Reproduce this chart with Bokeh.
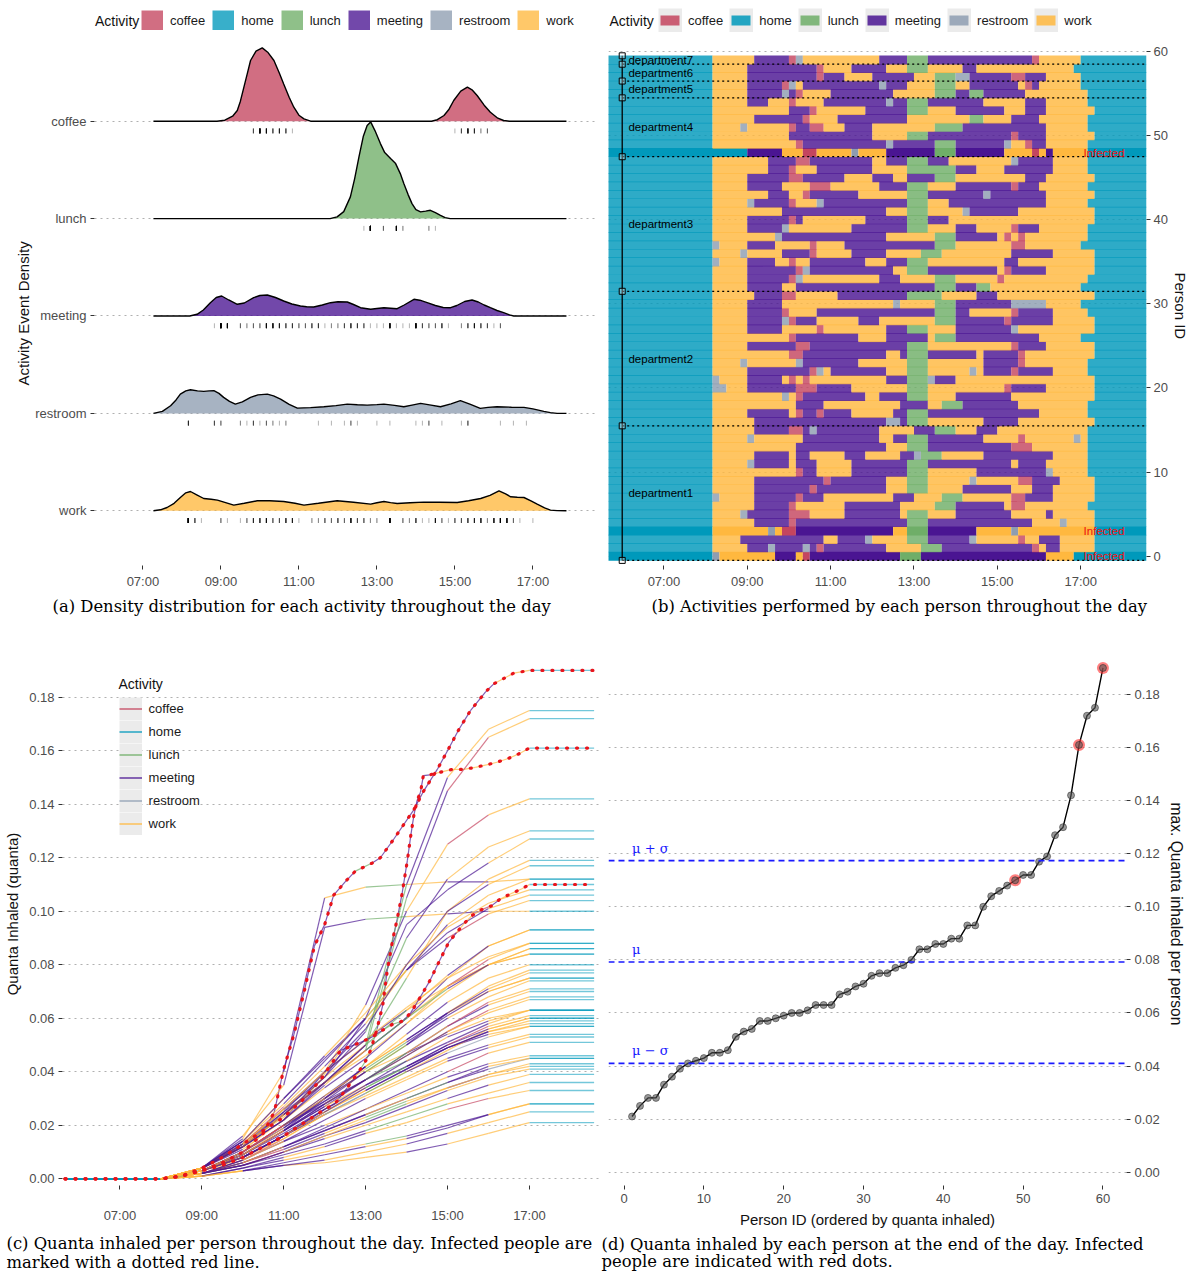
import numpy as np
from bokeh.plotting import figure
from bokeh.layouts import row, column
from bokeh.models import (ColumnDataSource, FixedTicker, Legend, LegendItem, Label,
                          Span, Title, Range1d, PrintfTickFormatter)
from bokeh.core.properties import value
from bokeh.embed import file_html
from bokeh.resources import INLINE

# ---------------------------------------------------------------- data
ACTIVITIES = ["coffee", "home", "lunch", "meeting", "restroom", "work"]
ACTIVITY_COLORS = ["#c4455f", "#0099bb", "#6fae68", "#4a1592", "#8e9db1", "#ffb83f"]
CODE = {"c": "coffee", "h": "home", "l": "lunch", "m": "meeting", "r": "restroom", "w": "work"}

SCHEDULE_START = 8.0          # first slot 08:00
SLOT_HOURS = 10 / 60          # 10 minute slots
DAY_START = 5.66              # home from ~05:40
DAY_END = 18.58               # home until ~18:35

# schedule of each person (id 0..59): activity code + number of 10-min slots
SCHEDULES = [
    "h1 r1 w8 m3 w1 c1 m13 l3 m18 w4",
    "h1 w5 m3 r1 m4 r1 m1 c1 m9 w5 l3 m13 c1 w1 m2 w5",
    "h1 w4 m12 w2 m4 r1 w5 l3 m6 r1 w6 c1 w2 m3 w5",
    "h1 w8 r1 w1 c2 m14 w2 l3 m7 w5 r1 w11",
    "h1 w6 m5 c1 m16 l3 m15 w4 r1 w4",
    "h1 w4 r1 m6 c3 w5 m8 w1 l3 w4 m8 w5 m1 w6",
    "h1 w6 m5 c1 w7 m8 w5 l3 m7 w1 c2 w9",
    "h1 r1 w5 m6 c1 m3 w10 m3 w4 l3 w7 c2 m4 w6",
    "h1 w6 m8 c1 m10 w3 l3 w5 m7 w3 m3 w6",
    "h1 w6 m10 c1 m8 w3 l3 w6 r1 w6 c2 m4 w5",
    "h1 w12 c1 m2 w5 m8 l3 w7 m10 r1 w5",
    "h1 w5 r1 m5 w1 m3 w5 m8 l3 m12 w1 m4 w6",
    "h1 w6 m5 w1 m2 w5 m3 w5 m2 r1 l3 w6 m10 w5",
    "h1 w12 m13 w3 l3 m12 c3 w8",
    "h1 w5 r1 w7 m11 w2 m2 l3 m8 w5 c1 w7 r1 w1",
    "h1 w6 m5 c2 m1 r1 m9 w5 m3 l3 w3 m3 w13",
    "h1 w6 m19 r2 m1 l3 w8 m5 w11",
    "h1 w5 m6 w1 c1 m2 c1 m4 w6 m2 l3 m16 w7",
    "h1 w12 m4 w11 m4 w2 l3 m8 w10",
    "h1 w10 r1 w1 c1 m9 w2 m4 l3 w4 m8 w12",
    "h1 r2 w3 m7 c3 m5 w8 l3 w11 c1 m5 w7",
    "h1 r1 w4 m5 w1 c1 w1 c1 w11 m3 l3 r1 m3 w20",
    "h1 w5 m9 c1 r1 w1 m8 w3 l3 w6 r1 w1 m4 c1 m5 w5",
    "h1 w4 r1 w7 r1 m8 w7 l3 w8 m5 c1 w9",
    "h1 w11 c2 m12 w2 m1 l3 m7 w1 m5 c1 w10",
    "h1 w5 m7 c2 m14 l3 w12 c1 m4 w7",
    "h1 w11 c1 m9 w4 m6 w1 l3 m12 w6",
    "h1 w5 m5 w5 c1 w9 m3 l3 w4 m8 r1 w11",
    "h1 w5 m5 r1 c1 m3 w6 m3 w8 l3 m7 c1 m6 w6",
    "h1 w5 m5 c1 w4 m17 l3 m2 w6 c1 m5 w5",
    "h1 w5 m5 w16 r1 w5 l3 m8 r5 w5",
    "h1 w6 m4 c2 w6 m10 l5 w5 m3 w14",
    "h1 w5 m5 w2 m20 l3 m3 l2 w13",
    "h1 w5 m6 c1 r1 w11 m3 w5 l3 w6 c1 w12",
    "h1 w5 m7 c1 r1 m12 w2 l3 m10 w1 c1 m5 w7",
    "h1 r1 w4 m4 w2 c1 w2 m8 w3 m3 l3 w11 m2 w11",
    "h1 w4 r1 w5 m4 c1 w5 m5 w5 l3 w10 m6 w6",
    "h1 r1 w4 m4 w5 c1 w4 m13 l3 w8 c2 w8",
    "h1 w9 r1 m15 w7 l3 m6 w1 c1 w1 c1 w9",
    "h1 w5 m5 r1 w9 m8 l3 w4 m3 w5 c1 m3 w7",
    "h1 w5 m6 c1 m1 w9 m6 l3 m3 w21",
    "h1 w10 m15 w3 l3 w5 r1 m7 w11",
    "h1 w5 r1 m5 c1 w3 r1 m12 l3 w3 m14 w6",
    "h1 w8 m3 w2 c1 m7 w7 l3 m8 r1 m8 w7",
    "h1 w5 m5 w4 c3 w7 m4 l3 w4 m8 c1 m3 w7",
    "h1 w5 m6 c2 m6 w4 m3 w2 m4 l3 w10 m3 w7",
    "h1 w8 m3 c1 w3 m8 w5 l7 m3 w4 m7 w5",
    "h1 w8 m4 c2 m9 w2 m3 l3 m3 w9 r1 m5 w5",
    "h6 m5 w3 c2 w5 r1 w4 m7 l3 m7 w4 c1 w1 m1 w5",
    "h1 w12 c1 m12 r1 m6 l3 m7 r1 w2 c1 m2 w6",
    "h1 w11 m12 w5 l3 m12 c1 m4 w7",
    "h1 w4 r1 w6 c1 m2 c2 w3 m4 w9 l4 m12 w6",
    "h1 w6 m7 c1 w4 m10 w9 l2 w4 m4 w7",
    "h1 w11 m3 c1 w7 m6 l3 w4 m7 w3 m3 w7",
    "h1 w5 m3 w3 c1 w4 m9 r1 m2 l3 m8 w6 m3 w6",
    "h1 w5 m5 r1 m1 c1 w4 m9 w6 l3 m2 l2 m6 w9",
    "h1 w5 m5 c1 r1 w1 m11 r1 m3 w4 l3 w2 m7 w1 c1 m1 w6",
    "h1 w5 m10 c1 m3 w4 m6 w3 l3 r2 m6 c2 m3 w5",
    "h1 w5 m10 c1 w4 m5 w3 l3 w5 m2 w14",
    "h1 w6 m5 c1 r1 w11 m4 l3 m15 c1 w6",
]
INFECTED = [0, 3, 48]
DEPARTMENTS = ["department1", "department2", "department3", "department4",
               "department5", "department6", "department7"]
DEPARTMENT_SIZES = [16, 16, 16, 7, 2, 2, 1]

# ridgeline densities (times in hours, density in px-like units)
DENSITY_ROWS = ["work", "restroom", "meeting", "lunch", "coffee"]   # bottom -> top
DENS_T = {
    "coffee": [7.27, 8.9, 9.1, 9.3, 9.42, 9.5, 9.59, 9.68, 9.76, 9.9, 10.06, 10.2, 10.36, 10.5, 10.61,
               10.75, 10.87, 11.0, 11.13, 11.3, 14.4, 14.55, 14.72, 14.85, 14.97, 15.15, 15.32, 15.45,
               15.57, 15.75, 15.91, 16.1, 16.25, 16.4, 17.86],
    "lunch": [7.27, 11.8, 11.98, 12.15, 12.32, 12.43, 12.54, 12.65, 12.75, 12.84, 12.95, 13.09, 13.2,
              13.35, 13.48, 13.6, 13.69, 13.8, 13.9, 14.0, 14.12, 14.25, 14.37, 14.5, 14.63, 14.75,
              14.88, 17.86],
    "meeting": [7.27, 8.2, 8.39, 8.55, 8.73, 8.88, 9.02, 9.2, 9.42, 9.6, 9.84, 10.0, 10.19, 10.4, 10.61,
                10.82, 11.04, 11.2, 11.38, 11.6, 11.81, 12.0, 12.24, 12.4, 12.58, 12.84, 13.0, 13.18,
                13.35, 13.52, 13.7, 13.95, 14.1, 14.29, 14.5, 14.7, 14.89, 15.05, 15.25, 15.44, 15.6,
                15.75, 15.91, 16.08, 16.25, 16.4, 16.51, 17.86],
    "restroom": [7.27, 7.5, 7.71, 7.85, 7.96, 8.1, 8.22, 8.4, 8.56, 8.7, 8.82, 8.95, 9.07, 9.22, 9.37,
                 9.55, 9.76, 9.95, 10.19, 10.35, 10.53, 10.75, 10.96, 11.3, 11.64, 11.95, 12.24, 12.5,
                 12.75, 13.0, 13.18, 13.45, 13.69, 13.9, 14.12, 14.35, 14.63, 14.9, 15.14, 15.4, 15.65,
                 15.85, 16.08, 16.45, 16.77, 17.0, 17.28, 17.45, 17.62, 17.86],
    "work": [7.27, 7.45, 7.62, 7.8, 7.96, 8.1, 8.22, 8.38, 8.56, 8.75, 8.91, 9.1, 9.33, 9.6, 9.93, 10.25,
             10.61, 10.9, 11.13, 11.5, 11.98, 12.4, 12.84, 13.0, 13.18, 13.35, 13.52, 13.85, 14.2, 14.6,
             15.06, 15.35, 15.66, 15.9, 16.13, 16.3, 16.43, 16.6, 16.77, 16.95, 17.11, 17.3, 17.45,
             17.62, 17.86],
}
DENS_D = {
    "coffee": [0, 0, 1, 5, 10.7, 20, 34, 48, 60.7, 70, 73.3, 69, 60.7, 48, 37.3, 24, 14, 6, 2.3, 0,
               0, 1.5, 5.7, 12, 20.7, 30, 34, 31, 25.7, 16, 9, 3, 0.7, 0, 0],
    "lunch": [0, 0, 1.7, 7, 21.7, 40, 61.7, 82, 93, 96.7, 88, 75, 66, 60, 55, 45, 35, 24, 15, 9,
              6.7, 7.5, 8.3, 6, 3.3, 1, 0, 0],
    "meeting": [0, 0, 1.7, 6, 13.3, 18.5, 20, 16, 11.7, 13, 18.3, 20.5, 21, 18.5, 15, 12, 10, 9.3, 9, 11,
                13.3, 14.2, 14, 11.5, 8.3, 6.7, 7.5, 8.3, 7.8, 7.3, 11, 16.7, 15.8, 13.3, 10.5, 8.5,
                8.3, 10.5, 14.5, 16, 14, 11, 8.3, 5.5, 3.3, 1.2, 0, 0],
    "restroom": [0, 2, 7.7, 13.5, 19.3, 22.5, 23.7, 22.5, 22, 22.5, 22.7, 20, 16, 12, 9.3, 11.5, 16,
                 18.5, 19.3, 17.5, 14.3, 9, 5.3, 5.8, 6.7, 7.8, 9.3, 8.6, 8.3, 8.8, 9.3, 8, 6.7, 8.3,
                 10, 8.5, 6.7, 9.5, 12.7, 9, 5, 6, 6.7, 6.2, 6, 4.5, 2, 0.8, 0, 0],
    "work": [0, 1, 3.3, 7.5, 13.3, 18, 19.3, 16, 12.3, 11.5, 10.7, 8.5, 5.7, 7.5, 10, 10, 9.3, 7.5, 5.7,
             7.5, 10, 8.5, 6.7, 8, 9.3, 8.2, 7.3, 8, 8.7, 8.5, 8.3, 10, 12.3, 15.5, 20, 17, 14, 13.5,
             13.3, 10, 6.7, 3, 0.7, 0.2, 0],
}

# cumulative quanta inhaled, hourly 08:00 .. 17:00 (non-infected persons)
HOURS = [8, 9, 10, 11, 12, 13, 14, 15, 16, 17]
QUANTA = {
    1: [0, .003, .008, .016, .026, .034, .042, .049, .054, .057],
    2: [0, .004, .012, .022, .040, .052, .063, .072, .080, .084],
    4: [0, .002, .006, .012, .018, .024, .030, .036, .041, .045],
    5: [0, .003, .010, .020, .030, .042, .052, .062, .070, .075],
    6: [0, .004, .014, .030, .045, .060, .078, .090, .099, .104],
    7: [0, .001, .004, .008, .012, .017, .021, .026, .030, .033],
    8: [0, .003, .009, .018, .030, .040, .047, .054, .060, .063],
    9: [0, .004, .013, .025, .036, .046, .058, .072, .082, .088],
    10: [0, .001, .003, .006, .009, .012, .015, .019, .024, .028],
    11: [0, .003, .010, .020, .028, .037, .047, .057, .065, .070],
    12: [0, .004, .015, .040, .105, .109, .110, .111, .111, .112],
    13: [0, .002, .007, .014, .020, .026, .033, .040, .047, .051],
    14: [0, .002, .005, .010, .016, .021, .027, .033, .038, .041],
    15: [0, .004, .012, .024, .036, .048, .060, .075, .087, .093],
    16: [0, .003, .008, .016, .024, .032, .040, .048, .056, .060],
    17: [0, .004, .012, .024, .038, .060, .095, .108, .118, .127],
    18: [0, .001, .003, .005, .006, .008, .010, .013, .017, .021],
    19: [0, .003, .010, .019, .030, .040, .050, .062, .072, .078],
    20: [0, .002, .007, .015, .024, .031, .038, .045, .050, .054],
    21: [0, .004, .011, .022, .034, .045, .058, .070, .080, .086],
    22: [0, .002, .005, .010, .015, .020, .025, .030, .035, .039],
    23: [0, .003, .009, .018, .028, .037, .046, .055, .063, .068],
    24: [0, .004, .012, .025, .040, .065, .100, .125, .136, .142],
    25: [0, .002, .006, .012, .019, .026, .032, .038, .043, .046],
    26: [0, .003, .010, .020, .029, .037, .044, .051, .058, .063],
    27: [0, .003, .010, .020, .030, .042, .054, .066, .075, .080],
    28: [0, .001, .004, .007, .010, .013, .016, .020, .024, .028],
    29: [0, .004, .016, .035, .094, .097, .098, .099, .100, .100],
    30: [0, .003, .008, .015, .024, .032, .040, .047, .053, .057],
    31: [0, .003, .009, .019, .029, .040, .050, .060, .068, .074],
    32: [0, .002, .005, .009, .013, .018, .023, .028, .032, .036],
    33: [0, .004, .012, .024, .036, .050, .075, .100, .112, .119],
    34: [0, .003, .008, .016, .025, .033, .041, .049, .055, .059],
    35: [0, .004, .013, .026, .040, .052, .064, .075, .083, .088],
    36: [0, .002, .006, .011, .017, .023, .029, .034, .039, .043],
    37: [0, .003, .009, .018, .027, .037, .047, .057, .066, .071],
    38: [0, .004, .012, .022, .035, .048, .105, .145, .165, .172],
    39: [0, .002, .007, .014, .022, .030, .037, .044, .049, .053],
    40: [0, .004, .012, .024, .036, .048, .060, .072, .080, .084],
    41: [0, .001, .003, .005, .007, .010, .013, .017, .021, .025],
    42: [0, .004, .014, .028, .044, .060, .078, .092, .101, .106],
    43: [0, .003, .009, .018, .027, .035, .042, .050, .056, .060],
    44: [0, .003, .010, .020, .031, .042, .052, .062, .071, .077],
    45: [0, .002, .005, .010, .016, .022, .028, .034, .039, .042],
    46: [0, .004, .013, .026, .038, .050, .063, .076, .087, .093],
    47: [0, .003, .009, .017, .026, .035, .044, .053, .059, .063],
    49: [0, .004, .012, .024, .038, .055, .090, .112, .124, .130],
    50: [0, .003, .008, .016, .025, .033, .041, .049, .055, .058],
    51: [0, .003, .010, .020, .031, .041, .051, .061, .070, .075],
    52: [0, .002, .006, .012, .018, .024, .030, .036, .042, .045],
    53: [0, .004, .013, .027, .042, .058, .078, .095, .106, .112],
    54: [0, .003, .009, .018, .028, .037, .046, .055, .062, .067],
    55: [0, .004, .012, .024, .036, .048, .060, .071, .080, .086],
    56: [0, .004, .012, .022, .036, .050, .110, .150, .168, .175],
    57: [0, .003, .008, .016, .025, .034, .042, .050, .057, .061],
    58: [0, .004, .014, .030, .046, .062, .080, .094, .103, .108],
    59: [0, .004, .013, .026, .040, .056, .080, .100, .110, .117],
}
# infected persons: finer curves (time, quanta)
INFECTED_T = {
    0: [8.0, 8.5, 9.0, 9.5, 10.0, 10.5, 10.77, 11.0, 11.25, 11.5, 11.75, 12.0, 12.22, 12.5, 12.75, 13.16,
        13.36, 13.69, 14.18, 14.42, 14.75, 15.0, 15.28, 15.56, 15.93, 16.13, 16.62, 17.0],
    3: [8.0, 8.5, 9.0, 9.5, 10.0, 10.5, 11.0, 11.5, 12.0, 12.25, 12.55, 12.83, 13.0, 13.12, 13.28, 13.42,
        13.53, 13.67, 13.77, 13.89, 14.02, 14.1, 14.18, 14.26, 14.34, 14.41, 14.57, 14.83, 15.11, 15.4,
        15.68, 15.95, 16.21, 16.5, 16.74, 17.0],
    48: [8.0, 8.5, 9.0, 9.5, 10.0, 10.5, 11.0, 11.5, 11.9, 12.39, 12.88, 13.16, 13.44, 13.65, 13.91, 14.1,
         14.26, 14.55, 14.79, 15.03, 15.22, 15.4, 15.6, 15.82, 16.07, 16.29, 16.54, 16.82, 17.0],
}
INFECTED_Q = {
    0: [0, .001, .003, .006, .010, .017, .025, .041, .054, .070, .087, .095, .106, .111, .115, .118, .120,
        .127, .138, .145, .153, .160, .168, .175, .182, .185, .189, .190],
    3: [0, .001, .003, .005, .008, .012, .016, .021, .026, .028, .034, .040, .044, .048, .056, .065, .078,
        .090, .097, .1065, .119, .128, .136, .1415, .1445, .1507, .151, .152, .153, .153, .1538, .1547,
        .1557, .1572, .1588, .161],
    48: [0, .001, .004, .008, .013, .018, .023, .030, .037, .048, .051, .053, .0558, .0577, .059, .062,
         .066, .0735, .081, .0884, .092, .0953, .0984, .1005, .102, .1046, .1065, .1084, .110],
}

TIME_TICKS = [7, 9, 11, 13, 15, 17]
TIME_LABELS = ["07:00", "09:00", "11:00", "13:00", "15:00", "17:00"]
BRACKET_T = 6.0
DEPT_LABEL_T = 6.15
INFECTED_LABEL_T = 17.07

COLOR = dict(zip(ACTIVITIES, ACTIVITY_COLORS))
SANS = "Liberation Sans"
SERIF = "DejaVu Serif"
NAN2 = [np.nan, np.nan]


# ---------------------------------------------------------------- helpers
def parse(s):
    segs = [["home", DAY_START, SCHEDULE_START]]
    t = SCHEDULE_START
    for tok in s.split():
        a = CODE[tok[0]]
        t1 = t + int(tok[1:]) * SLOT_HOURS
        segs.append([a, t, t1])
        t = t1
    segs.append(["home", t, DAY_END])
    merged = []
    for a, s0, s1 in segs:
        if merged and merged[-1][0] == a:
            merged[-1][2] = s1
        else:
            merged.append([a, s0, s1])
    return merged


SEGS = [parse(s) for s in SCHEDULES]


def activity_at(pid, t):
    for a, s0, s1 in SEGS[pid]:
        if s0 <= t < s1:
            return a
    return "home"


class Geo:
    def __init__(self, ox, oy, W, H, left, right, top, bottom, x0, x1, y0, y1):
        self.__dict__.update(locals())

    def x(self, px):
        return self.x0 + (px - self.left) * (self.x1 - self.x0) / (self.right - self.left)

    def y(self, py):
        return self.y1 - (py - self.top) * (self.y1 - self.y0) / (self.bottom - self.top)


def make_fig(g, y_axis_location="left"):
    p = figure(width=g.W, height=g.H, x_range=Range1d(g.x0, g.x1), y_range=Range1d(g.y0, g.y1),
               output_backend="svg", toolbar_location=None, y_axis_location=y_axis_location,
               min_border_left=int(round(g.left - g.ox)),
               min_border_right=int(round(g.ox + g.W - g.right)),
               min_border_top=int(round(g.top - g.oy)),
               min_border_bottom=int(round(g.oy + g.H - g.bottom)))
    p.outline_line_color = None
    p.xgrid.visible = False
    p.ygrid.grid_line_color = "#b0b0b0"
    p.ygrid.grid_line_dash = "2 4"
    p.ygrid.grid_line_width = 1
    for ax in p.xaxis + p.yaxis:
        ax.axis_line_color = None
        ax.major_tick_line_color = "#333333"
        ax.major_tick_in = 0
        ax.major_tick_out = 4
        ax.minor_tick_line_color = None
        ax.major_label_text_font = SANS
        ax.major_label_text_font_size = "13px"
        ax.major_label_text_color = "#4d4d4d"
        ax.major_label_standoff = 4
        ax.axis_label_text_font = SANS
        ax.axis_label_text_font_size = "15px"
        ax.axis_label_text_font_style = "normal"
        ax.axis_label_text_color = "#111111"
        ax.axis_label_standoff = 5
    return p


def caption(p, text, offset, standoff):
    p.add_layout(Title(text=text, align="left", offset=offset, standoff=standoff,
                       text_font=SERIF, text_font_size="16.4px", text_font_style="normal",
                       text_color="black"), "below")


def side_title(p, text, side, offset):
    p.add_layout(Title(text=text, align="left", offset=offset, standoff=2, text_font=SANS,
                       text_font_size="15px", text_font_style="normal", text_color="#111111"), side)


def time_axis(p):
    p.xaxis.ticker = FixedTicker(ticks=TIME_TICKS)
    p.xaxis.major_label_overrides = {t: s for t, s in zip(TIME_TICKS, TIME_LABELS)}


def legend_title(p, g, px, py, size="14px"):
    p.add_layout(Label(x=g.x(px), y=g.y(py), text="Activity", text_font=SANS, text_font_size=size,
                       text_baseline="middle", text_align="left", text_color="#111111"))


# ---------------------------------------------------------------- panel (a)
GA = Geo(0, 0, 600, 625, 94, 598, 0, 565, 5.759, 18.682, 0.4384, 6.2392)
ROW_PX = 97.4
pa = make_fig(GA)
time_axis(pa)
rows_ticks = list(range(1, len(DENSITY_ROWS) + 1))
pa.yaxis.ticker = FixedTicker(ticks=rows_ticks)
pa.yaxis.major_label_overrides = {i: n for i, n in zip(rows_ticks, DENSITY_ROWS)}
side_title(pa, "Activity Event Density", "left", 180)
pa.ygrid.ticker = FixedTicker(ticks=rows_ticks)

for base, act in sorted(zip(rows_ticks, DENSITY_ROWS), reverse=True):
    t = np.array(DENS_T[act])
    top = base + np.array(DENS_D[act]) / ROW_PX
    pa.varea(x=t, y1=np.full(len(t), base), y2=top, fill_color=COLOR[act], fill_alpha=0.78)
    pa.line(t, top, line_color="black", line_width=1.4)
    starts = [s0 for pid in range(len(SEGS)) for a, s0, s1 in SEGS[pid] if a == act]
    pa.segment(x0=starts, y0=[base - 0.075] * len(starts), x1=starts, y1=[base - 0.125] * len(starts),
               line_color="black", line_alpha=0.3, line_width=1)

items_a = []
for act in ACTIVITIES:
    r = pa.line(NAN2, NAN2, line_color=COLOR[act], line_alpha=0.78, line_width=20)
    items_a.append(LegendItem(label=act, renderers=[r]))
pa.add_layout(Legend(items=items_a, location=(47, 535), orientation="horizontal",
                     glyph_width=22, glyph_height=20, label_standoff=7, spacing=7, padding=0, margin=0,
                     border_line_alpha=0, background_fill_alpha=0, label_text_font=SANS,
                     label_text_font_size="13px", label_text_color="#1a1a1a", label_height=20))
legend_title(pa, GA, 94.5, 20)
caption(pa, "(a) Density distribution for each activity throughout the day", -42, 6)

# ---------------------------------------------------------------- panel (b)
GB = Geo(600, 0, 592, 625, 608, 1146, 0, 565, 5.671, 18.579, -1.106, 66.076)
pb = make_fig(GB, "right")
time_axis(pb)
pb.yaxis.ticker = FixedTicker(ticks=[0, 10, 20, 30, 40, 50, 60])
pb.ygrid.ticker = FixedTicker(ticks=[0, 10, 20, 30, 40, 50, 60])
pb.yaxis.major_label_standoff = 3
side_title(pb, "Person ID", "right", 272)

bars = dict(left=[], right=[], bottom=[], top=[], color=[], alpha=[])
for pid, segs in enumerate(SEGS):
    alpha = 1.0 if pid in INFECTED else 0.82
    for a, s0, s1 in segs:
        bars["left"].append(s0)
        bars["right"].append(s1)
        bars["bottom"].append(pid - 0.54)
        bars["top"].append(pid + 0.54)
        bars["color"].append(COLOR[a])
        bars["alpha"].append(alpha)
pb.quad(left="left", right="right", bottom="bottom", top="top", fill_color="color",
        fill_alpha="alpha", line_color=None, source=ColumnDataSource(bars))

lo, hi, centers = [], [], []
start = 0
for n in DEPARTMENT_SIZES:
    lo.append(start - 0.5)
    hi.append(start + n - 0.5)
    centers.append(start + (n - 1) / 2)
    start += n
bounds = sorted(set(lo + hi))
pb.segment(x0=[BRACKET_T] * len(lo), y0=lo, x1=[DAY_END] * len(lo), y1=lo, line_color="black",
           line_width=1.3, line_dash="2 3")
pb.segment(x0=[BRACKET_T], y0=[bounds[0]], x1=[BRACKET_T], y1=[bounds[-1]], line_color="black",
           line_width=1.3)
pb.scatter(x=[BRACKET_T] * len(bounds), y=bounds, marker="square", size=6, fill_color="white",
           fill_alpha=0.3, line_color="black", line_width=1)
pb.text(x=[DEPT_LABEL_T] * len(DEPARTMENTS), y=centers, text=DEPARTMENTS, text_font=value(SANS),
        text_font_size="11.5px", text_baseline="middle", text_align="left", text_color="black")
pb.text(x=[INFECTED_LABEL_T] * len(INFECTED), y=INFECTED, text=["Infected"] * len(INFECTED),
        text_font=value(SANS), text_font_size="11.5px", text_baseline="middle", text_align="left",
        text_color="#ee1111")

items_b = []
for act in ACTIVITIES:
    bg = pb.line(NAN2, NAN2, line_color="#ebebeb", line_width=24)
    fg = pb.line(NAN2, NAN2, line_color=COLOR[act], line_alpha=0.85, line_width=10,
                 line_dash="19 100", line_dash_offset=117)
    items_b.append(LegendItem(label=act, renderers=[bg, fg]))
pb.add_layout(Legend(items=items_b, location=(50, 533), orientation="horizontal",
                     glyph_width=24, glyph_height=24, label_standoff=6, spacing=6, padding=0, margin=0,
                     border_line_alpha=0, background_fill_alpha=0, label_text_font=SANS,
                     label_text_font_size="13px", label_text_color="#1a1a1a", label_height=24))
legend_title(pb, GB, 609, 20)
caption(pb, "(b) Activities performed by each person throughout the day", 43, 6)

# ---------------------------------------------------------------- panel (c)
GC = Geo(0, 625, 600, 648, 62, 600, 642, 1185, 5.598, 18.736, -0.0025, 0.20044)
pc = make_fig(GC)
time_axis(pc)
pc.xaxis.major_label_standoff = 18
qticks = [0, 0.02, 0.04, 0.06, 0.08, 0.10, 0.12, 0.14, 0.16, 0.18]
pc.yaxis.ticker = FixedTicker(ticks=qticks)
pc.ygrid.ticker = FixedTicker(ticks=qticks)
pc.yaxis.formatter = PrintfTickFormatter(format="%.2f")
pc.yaxis.axis_label = "Quanta Inhaled (quanta)"

curves = {}
for pid in range(len(SCHEDULES)):
    if pid in INFECTED_T:
        curves[pid] = (INFECTED_T[pid], INFECTED_Q[pid])
    else:
        curves[pid] = (HOURS, QUANTA[pid])

home_l = dict(xs=[], ys=[])
act_l = dict(xs=[], ys=[], color=[])
for pid, (T, V) in curves.items():
    home_l["xs"] += [[DAY_START, T[0]], [T[-1], DAY_END]]
    home_l["ys"] += [[0, V[0]], [V[-1], V[-1]]]
    for i in range(len(T) - 1):
        a = activity_at(pid, (T[i] + T[i + 1]) / 2)
        act_l["xs"].append([T[i], T[i + 1]])
        act_l["ys"].append([V[i], V[i + 1]])
        act_l["color"].append(COLOR[a])
pc.multi_line(xs="xs", ys="ys", source=ColumnDataSource(home_l), line_color=COLOR["home"],
              line_alpha=0.55, line_width=1.3)
pc.multi_line(xs="xs", ys="ys", line_color="color", source=ColumnDataSource(act_l), line_alpha=0.7,
              line_width=1.2)
red_x = [[DAY_START] + list(curves[p][0]) + [DAY_END] for p in INFECTED]
red_y = [[0] + list(curves[p][1]) + [curves[p][1][-1]] for p in INFECTED]
pc.multi_line(xs=red_x, ys=red_y, line_color="#e8141c", line_width=3.2, line_dash="1 9",
              line_cap="round")

items_c = []
for act in ACTIVITIES:
    bg = pc.line(NAN2, NAN2, line_color="#ebebeb", line_width=23)
    fg = pc.line(NAN2, NAN2, line_color=COLOR[act], line_alpha=0.8, line_width=1.6)
    items_c.append(LegendItem(label=act, renderers=[bg, fg]))
pc.add_layout(Legend(items=items_c, location=(56.6, 350), orientation="vertical",
                     glyph_width=23, glyph_height=23, label_standoff=7, spacing=0, padding=0, margin=0,
                     border_line_alpha=0, background_fill_alpha=0, label_text_font=SANS,
                     label_text_font_size="13px", label_text_color="#1a1a1a", label_height=23))
legend_title(pc, GC, 118, 683)
caption(pc, "(c) Quanta inhaled per person throughout the day.  Infected people are", -56, 12)
caption(pc, "marked with a dotted red line.", -56, -15)

# ---------------------------------------------------------------- panel (d)
GD = Geo(600, 625, 592, 648, 608, 1126, 642, 1185, -1.95, 62.95, -0.005, 0.19959)
pd_ = make_fig(GD, "right")
pd_.xaxis.ticker = FixedTicker(ticks=[0, 10, 20, 30, 40, 50, 60])
pd_.yaxis.ticker = FixedTicker(ticks=qticks)
pd_.ygrid.ticker = FixedTicker(ticks=qticks)
pd_.yaxis.formatter = PrintfTickFormatter(format="%.2f")
pd_.yaxis.axis_label = "max. Quanta inhaled per person"
pd_.yaxis.axis_label_text_font_size = "15.6px"
pd_.xaxis.axis_label = "Person ID (ordered by quanta inhaled)"

finals = {pid: curves[pid][1][-1] for pid in curves}
order = sorted(finals, key=lambda k: finals[k])
rank = list(range(1, len(order) + 1))
vals = [finals[p] for p in order]
mu = float(np.mean(vals))
sd = float(np.std(vals, ddof=1))
for lvl in (mu + sd, mu, mu - sd):
    pd_.add_layout(Span(location=lvl, dimension="width", line_color="#1a1aff", line_width=1.6,
                        line_dash="6 4"))
pd_.text(x=[1, 1, 1], y=[mu + sd, mu, mu - sd], text=["\u03bc + \u03c3", "\u03bc", "\u03bc \u2212 \u03c3"],
         text_font=value(SERIF), text_font_size="13px", text_color="#1a1aff", text_baseline="bottom",
         text_align="left", y_offset=-5)
pd_.line(rank, vals, line_color="black", line_width=1.4)
inf_r = [r for r, p in zip(rank, order) if p in INFECTED]
inf_v = [finals[p] for p in order if p in INFECTED]
pd_.scatter(inf_r, inf_v, size=12, fill_color="#ff2a2a", fill_alpha=0.6, line_color=None)
pd_.scatter(rank, vals, size=7, fill_color="#555555", fill_alpha=0.6, line_color="#222222",
            line_alpha=0.5)
caption(pd_, "(d) Quanta inhaled by each person at the end of the day.  Infected", -7, 4)
caption(pd_, "people are indicated with red dots.", -7, -12)

layout = column(row(pa, pb), row(pc, pd_))
open("out.html", "w").write(file_html(layout, INLINE))
